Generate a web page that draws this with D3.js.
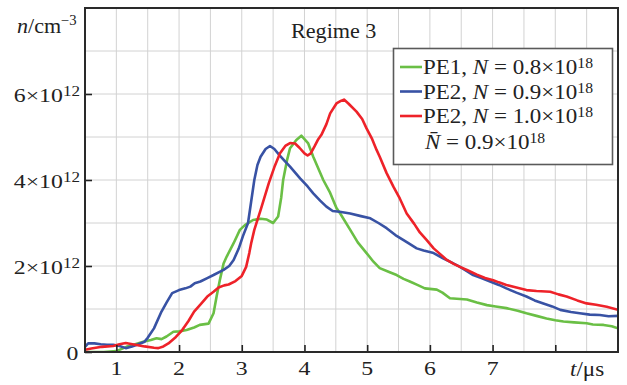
<!DOCTYPE html>
<html><head><meta charset="utf-8">
<script src="https://cdn.jsdelivr.net/npm/d3@7"></script>
<style>
html,body{margin:0;padding:0;background:#fff;}
svg{display:block;font-family:"Liberation Serif","Times New Roman",serif;}
</style></head>
<body>
<svg id="c" width="627" height="385"></svg>
<script>
// ---- data (t in μs, n in 10^12 cm^-3) ----
const pe1_t = [0.5,0.8,1.0,1.16,1.3,1.43,1.55,1.64,1.72,1.8,1.91,2.0,2.12,2.24,2.33,2.47,2.55,2.6,2.65,2.71,2.76,2.87,2.97,3.05,3.18,3.3,3.4,3.5,3.58,3.63,3.66,3.72,3.77,3.87,3.95,4.0,4.06,4.14,4.3,4.41,4.51,4.57,4.73,4.85,4.99,5.1,5.2,5.35,5.47,5.58,5.68,5.8,5.92,6.11,6.2,6.32,6.59,6.75,6.91,7.05,7.22,7.4,7.54,7.7,7.86,8.0,8.13,8.3,8.5,8.6,8.77,8.9,9.0];
const pe1_n = [0.0,0.0,0.02,0.12,0.18,0.24,0.28,0.32,0.3,0.36,0.47,0.48,0.51,0.57,0.63,0.66,0.9,1.3,1.67,2.06,2.22,2.53,2.84,2.95,3.07,3.1,3.08,3.0,3.15,3.6,4.0,4.45,4.74,4.93,5.03,4.95,4.85,4.54,4.0,3.7,3.35,3.22,2.84,2.55,2.3,2.1,1.95,1.86,1.79,1.7,1.64,1.56,1.48,1.45,1.38,1.25,1.22,1.15,1.09,1.06,1.02,0.96,0.9,0.84,0.78,0.74,0.71,0.69,0.67,0.64,0.63,0.6,0.55];

const pe2a_t = [0.5,0.55,0.65,0.75,0.85,0.95,1.05,1.15,1.25,1.35,1.45,1.5,1.6,1.72,1.8,1.89,2.0,2.1,2.18,2.25,2.34,2.45,2.55,2.71,2.8,2.87,2.95,3.02,3.1,3.15,3.2,3.25,3.3,3.38,3.45,3.52,3.6,3.68,3.77,3.93,4.05,4.14,4.25,4.35,4.45,4.56,4.73,4.9,5.05,5.18,5.31,5.45,5.58,5.67,5.79,5.9,6.06,6.21,6.35,6.48,6.59,6.69,6.82,6.96,7.1,7.22,7.38,7.54,7.67,7.81,7.95,8.08,8.25,8.39,8.55,8.71,8.85,9.0];
const pe2a_n = [0.12,0.2,0.2,0.18,0.17,0.17,0.14,0.09,0.13,0.18,0.24,0.33,0.55,0.94,1.15,1.37,1.44,1.48,1.52,1.6,1.64,1.72,1.79,1.91,2.0,2.14,2.4,2.7,3.0,3.5,4.0,4.35,4.54,4.72,4.79,4.72,4.58,4.45,4.31,4.04,3.85,3.69,3.52,3.38,3.28,3.26,3.22,3.16,3.11,3.0,2.88,2.72,2.6,2.52,2.41,2.36,2.3,2.18,2.08,1.98,1.88,1.79,1.72,1.64,1.56,1.48,1.38,1.29,1.2,1.13,1.06,0.98,0.93,0.9,0.87,0.86,0.83,0.84];

const pe2b_t = [0.5,0.6,0.77,0.95,1.05,1.15,1.3,1.45,1.6,1.67,1.75,1.83,1.95,2.05,2.15,2.24,2.35,2.45,2.55,2.63,2.72,2.79,2.9,3.0,3.07,3.12,3.15,3.2,3.3,3.43,3.52,3.61,3.7,3.77,3.85,3.92,4.0,4.05,4.1,4.16,4.22,4.27,4.35,4.41,4.51,4.58,4.63,4.7,4.83,4.92,4.99,5.08,5.15,5.2,5.31,5.42,5.52,5.63,5.75,5.84,5.95,6.06,6.17,6.27,6.38,6.48,6.6,6.75,6.88,7.01,7.1,7.22,7.38,7.54,7.7,7.92,8.05,8.18,8.35,8.5,8.65,8.82,9.0];
const pe2b_n = [0.05,0.08,0.12,0.14,0.18,0.21,0.17,0.13,0.1,0.09,0.13,0.2,0.35,0.51,0.72,0.94,1.12,1.29,1.4,1.5,1.55,1.57,1.65,1.77,1.98,2.3,2.53,2.84,3.3,3.92,4.3,4.62,4.8,4.86,4.85,4.75,4.62,4.57,4.62,4.78,4.95,5.05,5.3,5.55,5.78,5.84,5.87,5.78,5.59,5.42,5.2,4.95,4.7,4.54,4.16,3.84,3.57,3.22,2.98,2.78,2.6,2.41,2.27,2.14,2.05,1.98,1.9,1.8,1.72,1.67,1.62,1.56,1.5,1.44,1.42,1.4,1.34,1.29,1.2,1.13,1.1,1.05,0.98];

const xTicks = [1,2,3,4,5,6,7,8];
const xTickLabels = ["1","2","3","4","5","6","7",""];
const yTicks = [0,2,4,6];
const yTickLabels = ["0","2","4","6"];
const seriesNames = ["PE1","PE2","PE2"];
const seriesN = ["0.8","0.9","1.0"];
const seriesColors = ["#6abf45","#3852a4","#ee2229"];

// ---- layout ----
const svg = d3.select("#c");
const L = 85, R = 618, T = 8, B = 352;
const x = d3.scaleLinear().domain([0.5, 9]).range([L, R]);
const y = d3.scaleLinear().domain([0, 8]).range([B, T]);
const TXT = "#222";

// scaled text helper (the reference glyphs are wider than Times)
function stext(parent, px, py, sx, size, anchor) {
  return parent.append("g").attr("transform", `translate(${px},${py}) scale(${sx},1)`)
    .append("text").attr("x", 0).attr("y", 0).attr("font-size", size)
    .attr("text-anchor", anchor || "start").attr("fill", TXT);
}

// grid
const g = svg.append("g");
g.selectAll("line.vx").data(d3.range(1, 9.01, 0.5)).enter().append("line")
  .attr("x1", d => x(d)).attr("x2", d => x(d)).attr("y1", T).attr("y2", B)
  .attr("stroke", "#d2d2d2").attr("stroke-width", 1);
g.selectAll("line.hy").data(d3.range(1, 8, 1)).enter().append("line")
  .attr("x1", L).attr("x2", R).attr("y1", d => y(d)).attr("y2", d => y(d))
  .attr("stroke", "#d2d2d2").attr("stroke-width", 1);

// curves
const datasets = [
  pe1_t.map((t, i) => [t, pe1_n[i]]),
  pe2a_t.map((t, i) => [t, pe2a_n[i]]),
  pe2b_t.map((t, i) => [t, pe2b_n[i]])
];
const line = d3.line().x(d => x(d[0])).y(d => y(d[1])).curve(d3.curveLinear);
svg.append("defs").append("clipPath").attr("id", "clip").append("rect")
  .attr("x", L).attr("y", T).attr("width", R - L).attr("height", B - T);
const cg = svg.append("g").attr("clip-path", "url(#clip)");
[0, 1, 2].forEach(i => {
  cg.append("path").datum(datasets[i]).attr("d", line)
    .attr("fill", "none").attr("stroke", seriesColors[i])
    .attr("stroke-width", 2.6).attr("stroke-linejoin", "round");
});

// axes with inward ticks
const xAxis = d3.axisBottom(x).tickValues(xTicks).tickSize(-7).tickFormat(() => "");
const ax = svg.append("g").attr("transform", `translate(0,${B})`).call(xAxis);
ax.select(".domain").remove();
ax.selectAll(".tick line").attr("stroke", "#222").attr("stroke-width", 1.6);
ax.selectAll(".tick text").remove();
xTicks.forEach((d, i) => {
  if (xTickLabels[i]) stext(svg, x(d), 375, 1.22, 19.5, "middle").text(xTickLabels[i]);
});

const yAxis = d3.axisLeft(y).tickValues(yTicks).tickSize(-7).tickFormat(() => "");
const ay = svg.append("g").attr("transform", `translate(${L},0)`).call(yAxis);
ay.select(".domain").remove();
ay.selectAll(".tick line").attr("stroke", "#222").attr("stroke-width", 1.6);
ay.selectAll(".tick text").remove();
yTicks.forEach((d, i) => {
  const t = stext(svg, d === 0 ? 78.5 : 80, y(d) + 7.5, 1.22, 19.5, "end");
  if (d === 0) {
    t.text(yTickLabels[i]);
  } else {
    t.append("tspan").text(yTickLabels[i] + "×10");
    t.append("tspan").attr("font-size", 14).attr("dy", -6).text("12");
  }
});

// frame
svg.append("rect").attr("x", L).attr("y", T).attr("width", R - L).attr("height", B - T)
  .attr("fill", "none").attr("stroke", "#2a2a2a").attr("stroke-width", 2);

// axis titles
const yt = stext(svg, 17, 33, 1.05, 21);
yt.append("tspan").attr("font-style", "italic").text("n");
yt.append("tspan").text("/cm");
yt.append("tspan").attr("font-size", 14).attr("dy", -8).text("−3");

const xt = stext(svg, 570, 376, 1.1, 21);
xt.append("tspan").attr("font-style", "italic").text("t");
xt.append("tspan").text("/μs");

// title
stext(svg, 291, 38, 1.03, 21.5).text("Regime 3");

// legend
const lg = svg.append("g");
lg.append("rect").attr("x", 393.5).attr("y", 48.5).attr("width", 219).attr("height", 116)
  .attr("fill", "#fff").attr("stroke", "#5a5a5a").attr("stroke-width", 1.6);
const rowY = [67, 91.5, 116];
[0, 1, 2].forEach(i => {
  lg.append("line").attr("x1", 400).attr("x2", 422).attr("y1", rowY[i]).attr("y2", rowY[i])
    .attr("stroke", seriesColors[i]).attr("stroke-width", 2.6);
  const tx = stext(lg, 423, rowY[i] + 7, 1.045, 22);
  tx.append("tspan").text(seriesNames[i] + ", ");
  tx.append("tspan").attr("font-style", "italic").text("N");
  tx.append("tspan").text(" = " + seriesN[i] + "×10");
  tx.append("tspan").attr("font-size", 15).attr("dy", -6).text("18");
});
const lt = stext(lg, 425, 148.5, 1.045, 22);
lt.append("tspan").attr("font-style", "italic").text("N̄");
lt.append("tspan").text(" = 0.9×10");
lt.append("tspan").attr("font-size", 15).attr("dy", -6).text("18");
</script>
</body></html>
